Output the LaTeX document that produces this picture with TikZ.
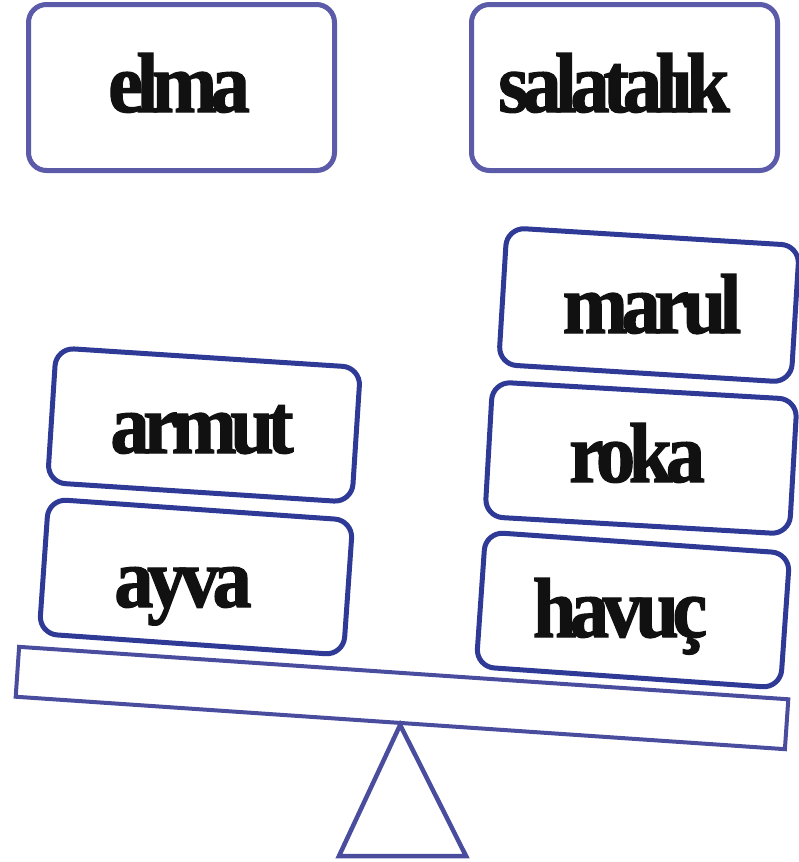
\documentclass[tikz,border=0pt]{standalone}
\usepackage{fontspec}
\newfontfamily\cardfont[FakeStretch=0.92,LetterSpace=-7.5,FakeBold=1.5]{Liberation Serif Bold}
\definecolor{cardblue}{HTML}{2E3A96}
\definecolor{paleblue}{HTML}{5B5BAA}
\definecolor{beamblue}{HTML}{4A4C9E}
\definecolor{ink}{HTML}{111111}

\tikzset{
  card/.style={draw=cardblue, fill=white, line width=5pt, rounded corners=18pt,
    minimum width=305pt, minimum height=135pt},
  topcard/.style={card, draw=paleblue, minimum width=306pt, minimum height=166pt},
  beambox/.style={draw=beamblue, line width=4pt, minimum width=771pt, minimum height=50pt},
  word/.style={anchor=base, text=ink, inner sep=0pt,
    font=\cardfont\fontsize{85}{85}\selectfont},
}

\begin{document}
\begin{tikzpicture}[x=1pt, y=-1pt]
    \useasboundingbox (0,0) rectangle (799,862);
    % seesaw
    \node[beambox, rotate=-3.9] at (402,698) (beam) {};
    \coordinate (footL) at (339,856);
    \coordinate (footR) at (466,856);
    \draw[beamblue, line width=4.5pt] (beam.south) -- (footL) -- (footR) -- cycle;
    % top cards
    \node[topcard] at (181.5,87.5) (elmacard) {};
    \node[topcard] at (624.5,87.5) (salatacard) {};
    \node[word] at (179,112) (elma) {elma};
    \node[word] at (614,112) (salatalik) {salatalık};
    % left pan
    \node[card, rotate=-3.7] at (204,425) (armutcard) {};
    \node[card, rotate=-4] at (196,577) (ayvacard) {};
    \node[word] at (202,453) (armut) {armut};
    \node[word] at (183,607) (ayva) {ayva};
    % right pan
    \node[card, rotate=-3.5, minimum width=293pt, minimum height=137pt] at (649,305) (marulcard) {};
    \node[card, rotate=-3.3] at (641,458) (rokacard) {};
    \node[card, rotate=-4] at (633,610) (havuccard) {};
    \node[word] at (652,333) (marul) {marul};
    \node[word] at (637,482) (roka) {roka};
    \node[word] at (620,637) (havuc) {havuç};
\end{tikzpicture}
\end{document}
